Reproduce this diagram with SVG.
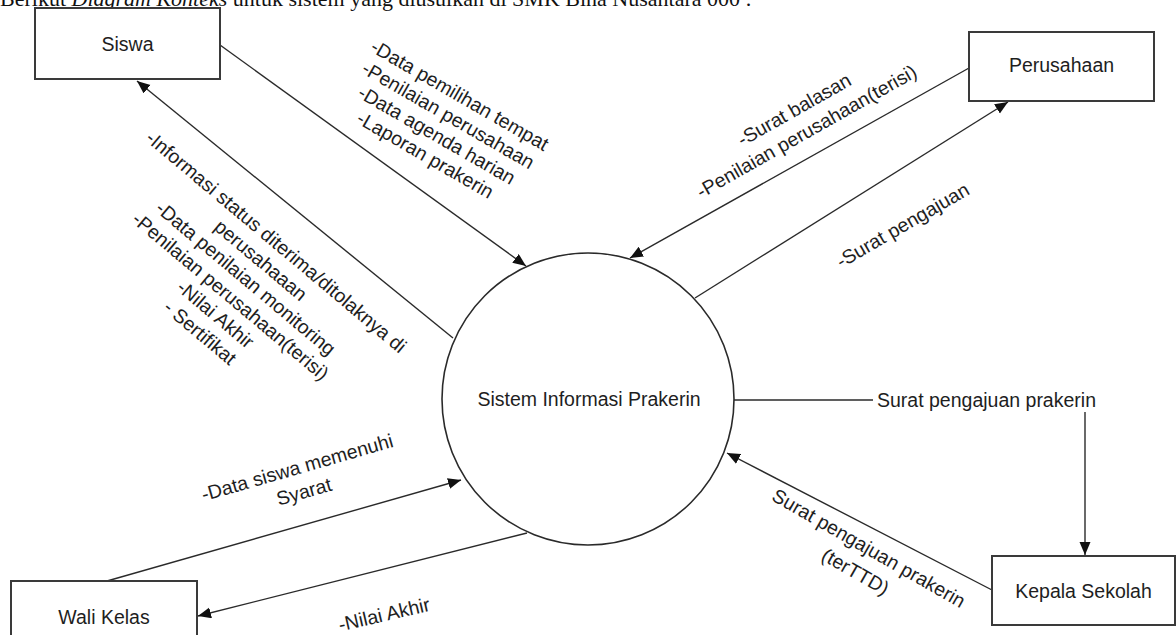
<svg xmlns="http://www.w3.org/2000/svg" width="1176" height="635" viewBox="0 0 1176 635">
<style>
.box{fill:#fff;stroke:#3a3a3a;stroke-width:2}
.ln{fill:none;stroke:#2a2a2a;stroke-width:1.4}
.t{font-family:"Liberation Sans",Arial,sans-serif;font-size:19.5px;fill:#1e1e1e}
.c{text-anchor:middle}
.hdr{font-family:"Liberation Serif","Times New Roman",serif;font-size:22px;fill:#111}
</style>
<defs>
<marker id="arr" markerUnits="userSpaceOnUse" markerWidth="14" markerHeight="12" refX="13" refY="5.5" orient="auto">
<path d="M0,0 L13,5.5 L0,11 z" fill="#111"/>
</marker>
</defs>
<rect width="1176" height="635" fill="#fff"/>
<text class="hdr" x="0" y="6">Berikut <tspan font-style="italic">Diagram Konteks</tspan> untuk sistem yang diusulkan di SMK Bina Nusantara 000 :</text>

<g id="connectors">
<path class="ln" d="M220,45 L526,266" marker-end="url(#arr)"/>
<path class="ln" d="M453,338 L137,81" marker-end="url(#arr)"/>
<path class="ln" d="M969,68 L630,258" marker-end="url(#arr)"/>
<path class="ln" d="M695,298 L1008,102" marker-end="url(#arr)"/>
<path class="ln" d="M734,400 L873,400"/>
<path class="ln" d="M1085,412 L1085,555" marker-end="url(#arr)"/>
<path class="ln" d="M992,590 L727,453" marker-end="url(#arr)"/>
<path class="ln" d="M107,581 L461,480" marker-end="url(#arr)"/>
<path class="ln" d="M527,533 L198,616" marker-end="url(#arr)"/>

<text class="t c" transform="translate(456.5,101) rotate(30)"><tspan x="0" dy="0">-Data pemilihan tempat</tspan><tspan x="0" dy="23">-Penilaian perusahaan</tspan><tspan x="0" dy="23">-Data agenda harian</tspan><tspan x="0" dy="23">-Laporan prakerin</tspan></text>
<text class="t c" transform="translate(272,247) rotate(40)"><tspan x="0" dy="0">-Informasi status diterima/ditolaknya di</tspan><tspan x="0" dy="24">perusahaaan</tspan><tspan x="0" dy="23.5">-Data penilaian monitoring</tspan><tspan x="0" dy="23.5">-Penilaian perusahaan(terisi)</tspan><tspan x="0" dy="23.5">-Nilai Akhir</tspan><tspan x="0" dy="24">- Sertifikat</tspan></text>
<text class="t c" transform="translate(797.5,115.5) rotate(-29.5)"><tspan x="0" dy="0">-Surat balasan</tspan><tspan x="0" dy="25">-Penilaian perusahaan(terisi)</tspan></text>
<text class="t c" transform="translate(906,231) rotate(-30)">-Surat pengajuan</text>
<text class="t" x="877" y="406.5">Surat pengajuan prakerin</text>
<text class="t c" transform="translate(865.5,554) rotate(29.8)"><tspan x="0" dy="0">Surat pengajuan prakerin</tspan><tspan x="0" dy="27">(terTTD)</tspan></text>
<text class="t c" transform="translate(299,474) rotate(-16)"><tspan x="0" dy="0">-Data siswa memenuhi</tspan><tspan x="0" dy="25">Syarat</tspan></text>
<text class="t c" transform="translate(385.6,621) rotate(-13)">-Nilai Akhir</text>
</g>

<g id="siswa">
<rect class="box" x="35" y="8" width="185" height="71"/>
<text class="t c" x="127.5" y="50.5">Siswa</text>
</g>
<g id="perusahaan">
<rect class="box" x="969" y="32" width="185" height="69"/>
<text class="t c" x="1061.5" y="72">Perusahaan</text>
</g>
<g id="sistem">
<circle cx="588" cy="399" r="146" fill="#fff" stroke="#2a2a2a" stroke-width="1.6"/>
<text class="t c" x="589" y="406">Sistem Informasi Prakerin</text>
</g>
<g id="kepala-sekolah">
<rect class="box" x="992" y="556" width="183" height="69"/>
<text class="t c" x="1083.5" y="597.5">Kepala Sekolah</text>
</g>
<g id="wali-kelas">
<rect class="box" x="11" y="581" width="186" height="80"/>
<text class="t c" x="104" y="624">Wali Kelas</text>
</g>
</svg>
